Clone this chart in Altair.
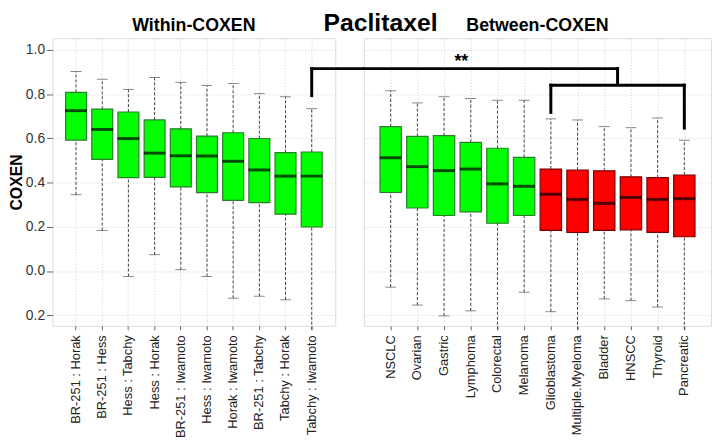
import altair as alt
import pandas as pd

# ---------------- data ----------------
left_cats = ["BR-251 : Horak", "BR-251 : Hess", "Hess : Tabchy", "Hess : Horak",
             "BR-251 : Iwamoto", "Hess : Iwamoto", "Horak : Iwamoto", "BR-251 : Tabchy",
             "Tabchy : Horak", "Tabchy : Iwamoto"]
left_low = [0.345, 0.183, -0.025, 0.074, 0.006, -0.025, -0.123, -0.114, -0.130, -0.265]
left_q1 = [0.592, 0.505, 0.422, 0.423, 0.380, 0.354, 0.319, 0.309, 0.257, 0.199]
left_med = [0.725, 0.640, 0.599, 0.533, 0.521, 0.520, 0.496, 0.457, 0.429, 0.429]
left_q3 = [0.808, 0.732, 0.719, 0.683, 0.643, 0.610, 0.625, 0.599, 0.535, 0.538]
left_high = [0.902, 0.867, 0.821, 0.875, 0.853, 0.839, 0.848, 0.802, 0.788, 0.734]
left_group = ["green"] * 10

right_cats = ["NSCLC", "Ovarian", "Gastric", "Lymphoma", "Colorectal", "Melanoma",
              "Glioblastoma", "Multiple.Myeloma", "Bladder", "HNSCC", "Thyroid", "Pancreatic"]
right_low = [-0.073, -0.154, -0.203, -0.180, -0.265, -0.096, -0.184, -0.265, -0.126, -0.134, -0.163, -0.265]
right_q1 = [0.355, 0.285, 0.251, 0.267, 0.216, 0.251, 0.184, 0.174, 0.184, 0.186, 0.175, 0.155]
right_med = [0.512, 0.472, 0.454, 0.461, 0.394, 0.383, 0.347, 0.324, 0.306, 0.333, 0.324, 0.327]
right_q3 = [0.653, 0.609, 0.612, 0.582, 0.555, 0.514, 0.461, 0.456, 0.453, 0.426, 0.422, 0.434]
right_high = [0.815, 0.760, 0.788, 0.780, 0.772, 0.772, 0.688, 0.683, 0.653, 0.648, 0.692, 0.591]
right_group = ["green"] * 6 + ["red"] * 6

y_ticks = [-0.2, 0.0, 0.2, 0.4, 0.6, 0.8, 1.0]
y_domain = [-0.248, 1.053]

# significance brackets (y values)
outer_from = "Tabchy : Iwamoto"
outer_leg_low = 0.793
outer_top = 0.915
inner_from = "Glioblastoma"
inner_to = "Pancreatic"
inner_mid = "Bladder"          # right edge of this band = bracket midpoint
inner_top = 0.840
inner_leg_left = 0.717
inner_leg_right = 0.646
inner_join = 0.848
star_at = "Gastric"
star_text = "**"

LW, RW, H, SP = 286, 351, 291, 29
FONT = "Liberation Sans"

fill_scale = alt.Scale(domain=["green", "red"], range=["#00ff00", "#ff0000"])
stroke_scale = alt.Scale(domain=["green", "red"], range=["#2a7f2a", "#7a0000"])


def panel(cats, low, q1, med, q3, high, group, width, pad_outer, show_y, title):
    df = pd.DataFrame({"cat": cats, "low": low, "q1": q1, "med": med,
                       "q3": q3, "high": high, "group": group})
    xscale = alt.Scale(domain=cats, paddingInner=0, paddingOuter=pad_outer)
    yscale = alt.Scale(domain=y_domain, nice=False, zero=False)
    xaxis = alt.Axis(labelAngle=270, labelAlign="right", labelBaseline="middle",
                     labelFontSize=13, labelColor="#222", labelPadding=5,
                     tickSize=4, tickColor="#666", domain=False,
                     grid=True, gridColor="#cfcfcf", gridDash=[1, 2],
                     title=None, labelFont=FONT)
    if show_y:
        yaxis = alt.Axis(values=y_ticks, labelExpr="format(abs(datum.value), '.1f')",
                         labelFontSize=14, labelColor="#333", labelPadding=2,
                         tickSize=6, tickColor="#666", domain=False,
                         grid=True, gridColor="#cfcfcf", gridDash=[1, 2],
                         title="COXEN", titleFontSize=16, titleFontWeight="bold",
                         titleColor="#000", titlePadding=1, labelFont=FONT, titleFont=FONT)
    else:
        yaxis = alt.Axis(values=y_ticks, labels=False, ticks=False, domain=False,
                         grid=True, gridColor="#cfcfcf", gridDash=[1, 2], title=None)

    X = alt.X("cat:N", scale=xscale, axis=xaxis)
    Xb = alt.X("cat:N", scale=xscale, axis=xaxis, bandPosition=1)

    def Y(f):
        return alt.Y(f, scale=yscale, axis=yaxis)

    base = alt.Chart(df)

    box = base.mark_bar(width={"band": 0.8}, strokeWidth=1.2).encode(
        x=X, y=Y("q1:Q"), y2="q3:Q",
        fill=alt.Fill("group:N", scale=fill_scale, legend=None),
        stroke=alt.Stroke("group:N", scale=stroke_scale, legend=None))
    whisk_lo = base.mark_rule(color="#444", strokeDash=[3, 2], strokeWidth=1, clip=False).encode(
        x=X, y=Y("low:Q"), y2="q1:Q")
    whisk_hi = base.mark_rule(color="#444", strokeDash=[3, 2], strokeWidth=1).encode(
        x=X, y=Y("q3:Q"), y2="high:Q")
    cap_hi = base.mark_tick(color="#555", size=11, thickness=1).encode(
        x=X, y=Y("high:Q"))
    cap_lo = base.transform_filter(alt.datum.low > y_domain[0]).mark_tick(
        color="#555", size=11, thickness=1).encode(x=X, y=Y("low:Q"))
    median = base.mark_tick(color="#000", thickness=3, size=22).encode(
        x=X, y=Y("med:Q"))

    layers = [box, whisk_lo, whisk_hi, cap_hi, cap_lo, median]

    bw = dict(color="#000", strokeWidth=3, strokeCap="square", clip=False)
    if show_y:
        d1 = pd.DataFrame({"cat": [outer_from], "y": [outer_leg_low], "y2": [outer_top]})
        layers.append(alt.Chart(d1).mark_rule(**bw).encode(
            x=X, y=Y("y:Q"), y2="y2:Q"))
        d2 = pd.DataFrame({"cat": [outer_from], "y": [outer_top]})
        layers.append(alt.Chart(d2).mark_rule(**bw).encode(
            x=X, x2=alt.value(width + SP), y=Y("y:Q")))
    else:
        d3 = pd.DataFrame({"cat": [inner_mid], "y": [outer_top], "y2": [inner_join]})
        layers.append(alt.Chart(d3).mark_rule(**bw).encode(
            x=Xb, x2=alt.value(0), y=Y("y:Q")))
        layers.append(alt.Chart(d3).mark_rule(**bw).encode(
            x=Xb, y=Y("y:Q"), y2="y2:Q"))
        d4 = pd.DataFrame({"cat": [inner_from], "cat2": [inner_to], "y": [inner_top]})
        layers.append(alt.Chart(d4).mark_rule(**bw).encode(
            x=X, x2="cat2:N", y=Y("y:Q")))
        d5 = pd.DataFrame({"cat": [inner_from, inner_to],
                           "y": [inner_leg_left, inner_leg_right], "y2": [inner_top, inner_top]})
        layers.append(alt.Chart(d5).mark_rule(**bw).encode(
            x=X, y=Y("y:Q"), y2="y2:Q"))
        d6 = pd.DataFrame({"cat": [star_at], "y": [outer_top], "t": [star_text]})
        layers.append(alt.Chart(d6).mark_text(fontSize=18, fontWeight="bold", dx=4, dy=-2,
                                              baseline="alphabetic", font=FONT).encode(
            x=Xb, y=Y("y:Q"), text="t:N"))

    return alt.layer(*layers).properties(
        width=width, height=H,
        title=alt.TitleParams(title, fontSize=18, fontWeight="bold", anchor="middle",
                              offset=3, font=FONT, color="#000"))


left = panel(left_cats, left_low, left_q1, left_med, left_q3, left_high, left_group,
             LW, 0.4, True, "Within-COXEN")
right = panel(right_cats, right_low, right_q1, right_med, right_q3, right_high, right_group,
              RW, 0.5, False, "Between-COXEN")

chart = alt.hconcat(left, right, spacing=SP, bounds="flush").properties(
    title=alt.TitleParams("Paclitaxel", fontSize=25, fontWeight="bold", anchor="middle",
                          dx=21, offset=-19, font=FONT, color="#000"),
    padding=0,
).configure_view(stroke="#777", strokeWidth=1).configure(font=FONT)

chart.save("out.html", embed_options={"renderer": "svg", "actions": False})
